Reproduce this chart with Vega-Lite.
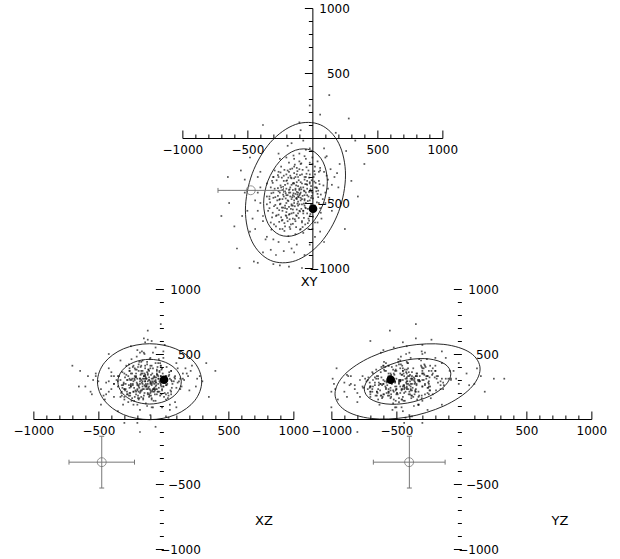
{
"$schema":"https://vega.github.io/schema/vega-lite/v6.json",
"padding":{"left":13,"top":2,"right":5,"bottom":5},
"background":"white",
"config":{"view":{"stroke":null},"axis":{"grid":false,"title":null,"labelFont":"DejaVu Sans","labelFontSize":12,"labelColor":"#000","domainColor":"#000","tickColor":"#000","domainWidth":1,"tickWidth":1,"labelOverlap":false,"labelBound":false,"labelFlush":false},"text":{"font":"DejaVu Sans"}},
"datasets":{
"cloud":[
{"x":-120,"y":-415,"z":290},{"x":-50,"y":-300,"z":350},{"x":-210,"y":-520,"z":210},{"x":30,"y":-380,"z":310},{"x":-280,"y":-600,"z":190},{"x":-90,"y":-200,"z":410},{"x":-160,"y":-470,"z":250},{"x":60,"y":-250,"z":370},{"x":-330,"y":-540,"z":170},{"x":-140,"y":-350,"z":330},
{"x":-20,"y":-480,"z":270},{"x":-240,"y":-380,"z":310},{"x":110,"y":-290,"z":390},{"x":-70,"y":-560,"z":230},{"x":-190,"y":-640,"z":150},{"x":-100,"y":-120,"z":470},{"x":-260,"y":-300,"z":370},{"x":0,"y":-420,"z":250},{"x":-150,"y":-520,"z":310},{"x":-40,"y":-330,"z":210},
{"x":-220,"y":-450,"z":390},{"x":80,"y":-470,"z":290},{"x":-300,"y":-420,"z":230},{"x":-120,"y":-280,"z":190},{"x":-170,"y":-700,"z":170},{"x":-60,"y":-410,"z":430},{"x":-380,"y":-600,"z":270},{"x":40,"y":-180,"z":330},{"x":-200,"y":-330,"z":110},{"x":-110,"y":-580,"z":370},
{"x":150,"y":-360,"z":310},{"x":-250,"y":-700,"z":250},{"x":-30,"y":-250,"z":290},{"x":-180,"y":-400,"z":510},{"x":-80,"y":-650,"z":210},{"x":-350,"y":-350,"z":330},{"x":20,"y":-520,"z":150},{"x":-140,"y":-160,"z":290},{"x":-230,"y":-560,"z":410},{"x":-90,"y":-460,"z":90},
{"x":100,"y":-150,"z":430},{"x":-300,"y":-780,"z":170},{"x":-10,"y":-370,"z":390},{"x":-190,"y":-250,"z":250},{"x":-130,"y":-740,"z":310},{"x":70,"y":-620,"z":270},{"x":-270,"y":-480,"z":130},{"x":-50,"y":-90,"z":370},{"x":-400,"y":-500,"z":230},{"x":-160,"y":-310,"z":450},
{"x":-70,"y":-730,"z":290},{"x":190,"y":-270,"z":330},{"x":-240,"y":-220,"z":350},{"x":-110,"y":-490,"z":190},{"x":-20,"y":-600,"z":410},{"x":-320,"y":-650,"z":210},{"x":50,"y":-330,"z":110},{"x":-200,"y":-150,"z":310},{"x":-150,"y":-620,"z":510},{"x":-40,"y":-440,"z":330},
{"x":-420,"y":-420,"z":290},{"x":130,"y":-460,"z":230},{"x":-260,"y":-590,"z":370},{"x":-90,"y":-340,"z":150},{"x":0,"y":-200,"z":470},{"x":-350,"y":-760,"z":250},{"x":-180,"y":-530,"z":70},{"x":90,"y":-80,"z":310},{"x":-120,"y":-820,"z":230},{"x":-230,"y":-400,"z":210},
{"x":-60,"y":-520,"z":550},{"x":-290,"y":-250,"z":270},{"x":20,"y":-650,"z":330},{"x":-170,"y":-240,"z":410},{"x":-100,"y":-400,"z":30},{"x":210,"y":-200,"z":370},{"x":-440,"y":-700,"z":190},{"x":-50,"y":-160,"z":230},{"x":-210,"y":-680,"z":350},{"x":-140,"y":-450,"z":590},
{"x":60,"y":-540,"z":190},{"x":-310,"y":-330,"z":110},{"x":-80,"y":-280,"z":510},{"x":-380,"y":-880,"z":170},{"x":-10,"y":-510,"z":90},{"x":-260,"y":-120,"z":310},{"x":120,"y":-390,"z":470},{"x":-160,"y":-850,"z":270},{"x":-330,"y":-470,"z":450},{"x":-30,"y":-700,"z":210},
{"x":-190,"y":-60,"z":370},{"x":40,"y":-430,"z":10},{"x":-230,"y":-630,"z":110},{"x":-120,"y":-230,"z":610},{"x":-500,"y":-560,"z":290},{"x":150,"y":-560,"z":350},{"x":-70,"y":-20,"z":270},{"x":-280,"y":-900,"z":210},{"x":-200,"y":-440,"z":-30},{"x":10,"y":-300,"z":570},
{"x":-520,"y":-320,"z":330},{"x":260,"y":-100,"z":310},{"x":-450,"y":-950,"z":150},{"x":-600,"y":-680,"z":250},{"x":220,"y":-500,"z":410},{"x":-100,"y":120,"z":390},{"x":-300,"y":-970,"z":230},{"x":180,"y":40,"z":350},{"x":-550,"y":-250,"z":190},{"x":300,"y":-330,"z":290},
{"x":-180,"y":-990,"z":310},{"x":-640,"y":-500,"z":370},{"x":90,"y":-800,"z":130},{"x":-380,"y":100,"z":270},{"x":330,"y":-20,"z":430},{"x":-20,"y":250,"z":310},{"x":-480,"y":-150,"z":110},{"x":250,"y":-700,"z":250},{"x":-580,"y":-850,"z":330},{"x":60,"y":180,"z":210},
{"x":-700,"y":-600,"z":410},{"x":350,"y":-450,"z":170},{"x":-250,"y":-980,"z":270},{"x":130,"y":330,"z":310},{"x":-420,"y":-960,"z":390},{"x":-650,"y":-300,"z":250},{"x":280,"y":150,"z":330},{"x":-80,"y":-1000,"z":90},{"x":400,"y":-200,"z":370},{"x":-560,"y":-1000,"z":210},
{"x":-150,"y":-350,"z":620},{"x":-60,"y":-480,"z":-60},{"x":-250,"y":-420,"z":560},{"x":20,"y":-380,"z":20},{"x":-120,"y":-550,"z":680},{"x":-300,"y":-300,"z":-30},{"x":-200,"y":-600,"z":530},{"x":50,"y":-260,"z":70},{"x":-90,"y":-700,"z":600},{"x":-350,"y":-450,"z":60},
{"x":0,"y":-150,"z":520},{"x":-180,"y":-800,"z":-100},{"x":-420,"y":-300,"z":500},{"x":100,"y":-500,"z":90},{"x":-20,"y":-350,"z":730},{"x":-130,"y":-430,"z":310},{"x":-100,"y":-390,"z":270},{"x":-150,"y":-400,"z":330},{"x":-110,"y":-450,"z":250},{"x":-90,"y":-420,"z":310},
{"x":-160,"y":-360,"z":290},{"x":-70,"y":-380,"z":330},{"x":-140,"y":-480,"z":290},{"x":-180,"y":-420,"z":270},{"x":-60,"y":-440,"z":250},{"x":-120,"y":-340,"z":350},{"x":-200,"y":-500,"z":230},{"x":-40,"y":-390,"z":310},{"x":-170,"y":-450,"z":370},{"x":-100,"y":-510,"z":290},
{"x":-130,"y":-300,"z":250},{"x":-210,"y":-410,"z":330},{"x":-80,"y":-350,"z":230},{"x":-150,"y":-550,"z":330},{"x":-30,"y":-450,"z":370},{"x":-190,"y":-350,"z":210},{"x":-120,"y":-600,"z":270},{"x":-60,"y":-320,"z":290},{"x":-230,"y":-470,"z":290},{"x":-10,"y":-410,"z":230},
{"x":-140,"y":-270,"z":310},{"x":-100,"y":-560,"z":410},{"x":-250,"y":-510,"z":250},{"x":-50,"y":-500,"z":190},{"x":-170,"y":-290,"z":350},{"x":-110,"y":-370,"z":170},{"x":-80,"y":-470,"z":390},{"x":-200,"y":-280,"z":270},{"x":-20,"y":-340,"z":330},{"x":-160,"y":-580,"z":230},
{"x":-95,"y":-430,"z":210},{"x":-175,"y":-395,"z":340},{"x":-55,"y":-355,"z":280},{"x":-225,"y":-535,"z":310},{"x":-125,"y":-465,"z":420},{"x":-15,"y":-395,"z":190},{"x":-265,"y":-445,"z":260},{"x":-85,"y":-545,"z":350},{"x":-195,"y":-325,"z":180},{"x":-45,"y":-275,"z":400},
{"x":-145,"y":-575,"z":200},{"x":-245,"y":-365,"z":300},{"x":-65,"y":-615,"z":320},{"x":-115,"y":-255,"z":240},{"x":-205,"y":-595,"z":380},{"x":5,"y":-465,"z":300},{"x":-285,"y":-515,"z":340},{"x":-135,"y":-205,"z":320},{"x":-35,"y":-545,"z":240},{"x":-165,"y":-665,"z":280},
{"x":-105,"y":-325,"z":460},{"x":-215,"y":-245,"z":220},{"x":25,"y":-345,"z":260},{"x":-255,"y":-645,"z":200},{"x":-75,"y":-445,"z":140},{"x":-185,"y":-485,"z":440},{"x":-25,"y":-305,"z":180},{"x":-125,"y":-685,"z":360},{"x":-235,"y":-305,"z":400},{"x":-5,"y":-565,"z":320},
{"x":-155,"y":-235,"z":160},{"x":-305,"y":-575,"z":280},{"x":-95,"y":-285,"z":340},{"x":-175,"y":-625,"z":220},{"x":45,"y":-405,"z":360},{"x":-265,"y":-385,"z":180},{"x":-55,"y":-665,"z":260},{"x":-145,"y":-425,"z":500},{"x":-215,"y":-715,"z":320},{"x":15,"y":-255,"z":280},
{"x":-325,"y":-495,"z":200},{"x":-85,"y":-195,"z":220},{"x":-195,"y":-545,"z":160},{"x":-35,"y":-485,"z":460},{"x":-125,"y":-365,"z":100},{"x":-245,"y":-265,"z":460},{"x":65,"y":-435,"z":240},{"x":-295,"y":-665,"z":320},{"x":-105,"y":-615,"z":180},{"x":-165,"y":-305,"z":520},
{"x":-15,"y":-525,"z":380},{"x":-225,"y":-435,"z":140},{"x":-75,"y":-245,"z":320},{"x":-185,"y":-755,"z":240},{"x":35,"y":-495,"z":200},{"x":-275,"y":-325,"z":300},{"x":-135,"y":-525,"z":120},{"x":-45,"y":-225,"z":340},{"x":-205,"y":-465,"z":480},{"x":-95,"y":-705,"z":280},
{"x":-255,"y":-555,"z":180},{"x":-5,"y":-325,"z":300},{"x":-145,"y":-135,"z":260},{"x":-315,"y":-425,"z":360},{"x":85,"y":-365,"z":320},{"x":-175,"y":-585,"z":400},{"x":-65,"y":-505,"z":220},{"x":-235,"y":-635,"z":260},{"x":-115,"y":-435,"z":380},{"x":-25,"y":-635,"z":280},
{"x":-310,"y":-610,"z":260},{"x":-270,"y":-540,"z":330},{"x":-230,"y":-700,"z":210},{"x":-190,"y":-480,"z":420},{"x":-150,"y":-660,"z":180},{"x":-110,"y":-520,"z":300},{"x":-70,"y":-580,"z":240},{"x":-30,"y":-620,"z":360},{"x":10,"y":-560,"z":200},{"x":50,"y":-500,"z":310},
{"x":-330,"y":-450,"z":300},{"x":-290,"y":-390,"z":230},{"x":-250,"y":-470,"z":350},{"x":-210,"y":-360,"z":190},{"x":-170,"y":-420,"z":440},{"x":-130,"y":-390,"z":250},{"x":-90,"y":-480,"z":160},{"x":-50,"y":-420,"z":380},{"x":-10,"y":-460,"z":220},{"x":30,"y":-410,"z":270},
{"x":-300,"y":-300,"z":350},{"x":-260,"y":-260,"z":240},{"x":-220,"y":-330,"z":170},{"x":-180,"y":-190,"z":310},{"x":-140,"y":-310,"z":410},{"x":-100,"y":-240,"z":220},{"x":-60,"y":-300,"z":140},{"x":-20,"y":-190,"z":330},{"x":20,"y":-280,"z":260},{"x":60,"y":-230,"z":370},
{"x":-280,"y":-680,"z":300},{"x":-240,"y":-610,"z":160},{"x":-200,"y":-570,"z":260},{"x":-160,"y":-510,"z":370},{"x":-120,"y":-470,"z":200},{"x":-80,"y":-640,"z":310},{"x":-40,"y":-580,"z":430},{"x":0,"y":-700,"z":250},{"x":40,"y":-650,"z":180},{"x":-340,"y":-560,"z":330},
{"x":-320,"y":-380,"z":180},{"x":-285,"y":-455,"z":410},{"x":-245,"y":-505,"z":140},{"x":-205,"y":-425,"z":280},{"x":-165,"y":-545,"z":220},{"x":-125,"y":-595,"z":440},{"x":-85,"y":-395,"z":290},{"x":-45,"y":-355,"z":210},{"x":-5,"y":-445,"z":350},{"x":35,"y":-385,"z":160},
{"x":-305,"y":-345,"z":270},{"x":-265,"y":-285,"z":420},{"x":-225,"y":-375,"z":240},{"x":-185,"y":-305,"z":160},{"x":-145,"y":-345,"z":350},{"x":-105,"y":-455,"z":230},{"x":-65,"y":-405,"z":190},{"x":-25,"y":-415,"z":430},{"x":15,"y":-335,"z":300},{"x":55,"y":-355,"z":220},
{"x":-295,"y":-525,"z":220},{"x":-255,"y":-475,"z":300},{"x":-215,"y":-655,"z":380},{"x":-175,"y":-685,"z":210},{"x":-135,"y":-625,"z":270},{"x":-95,"y":-565,"z":180},{"x":-55,"y":-535,"z":320},{"x":-15,"y":-585,"z":250},{"x":25,"y":-535,"z":400},{"x":65,"y":-575,"z":290},
{"x":-315,"y":-705,"z":240},{"x":-275,"y":-595,"z":190},{"x":-235,"y":-535,"z":270},{"x":-195,"y":-615,"z":400},{"x":-155,"y":-455,"z":150},{"x":-115,"y":-505,"z":380},{"x":-75,"y":-685,"z":230},{"x":-35,"y":-655,"z":310},{"x":5,"y":-605,"z":170},{"x":45,"y":-455,"z":340},
{"x":-350,"y":-510,"z":290},{"x":-300,"y":-460,"z":150},{"x":-260,"y":-410,"z":390},{"x":-220,"y":-290,"z":300},{"x":-180,"y":-260,"z":200},{"x":-140,"y":-220,"z":390},{"x":-100,"y":-180,"z":280},{"x":-60,"y":-140,"z":230},{"x":-20,"y":-280,"z":410},{"x":20,"y":-220,"z":190},
{"x":-130,"y":-400,"z":260},{"x":-110,"y":-420,"z":320},{"x":-150,"y":-440,"z":230},{"x":-90,"y":-380,"z":270},{"x":-170,"y":-380,"z":300},{"x":-120,"y":-460,"z":340},{"x":-140,"y":-500,"z":250},{"x":-100,"y":-440,"z":200},{"x":-80,"y":-510,"z":280},{"x":-160,"y":-520,"z":350},
{"x":-190,"y":-440,"z":260},{"x":-60,"y":-470,"z":300},{"x":-200,"y":-390,"z":220},{"x":-40,"y":-360,"z":270},{"x":-210,"y":-540,"z":320},{"x":-70,"y":-560,"z":210},{"x":-180,"y":-590,"z":290},{"x":-50,"y":-540,"z":340},{"x":-110,"y":-300,"z":300},{"x":-130,"y":-640,"z":230},
{"x":-380,"y":-640,"z":330},{"x":-420,"y":-560,"z":210},{"x":-400,"y":-380,"z":360},{"x":100,"y":-420,"z":240},{"x":120,"y":-320,"z":290},{"x":90,"y":-260,"z":330},{"x":-360,"y":-780,"z":300},{"x":-260,"y":-800,"z":200},{"x":-140,"y":-880,"z":340},{"x":-20,"y":-820,"z":260},
{"x":-440,"y":-480,"z":280},{"x":140,"y":-240,"z":250},{"x":-220,"y":-870,"z":330},{"x":60,"y":-720,"z":300},{"x":-480,"y":-720,"z":230},{"x":160,"y":-480,"z":300},{"x":-520,"y":-420,"z":350},{"x":200,"y":-380,"z":220},{"x":-60,"y":-900,"z":280},{"x":-160,"y":-40,"z":310},
{"x":-250,"y":-160,"z":260},{"x":-20,"y":-80,"z":300},{"x":-400,"y":-260,"z":330},{"x":110,"y":-140,"z":280},{"x":-320,"y":-860,"z":260},{"x":20,"y":-760,"z":330},{"x":-460,"y":-620,"z":180},{"x":170,"y":-300,"z":390},{"x":-540,"y":-600,"z":300},{"x":-90,"y":60,"z":260}
],
"ellXY":[
{"r":"o","k":0,"h":255,"v":-285},{"r":"o","k":1,"h":203,"v":-41},{"r":"o","k":2,"h":63,"v":101},{"r":"o","k":3,"h":-130,"v":104},{"r":"o","k":4,"h":-323,"v":-34},{"r":"o","k":5,"h":-463,"v":-275},{"r":"o","k":6,"h":-515,"v":-555},{"r":"o","k":7,"h":-463,"v":-799},{"r":"o","k":8,"h":-323,"v":-941},{"r":"o","k":9,"h":-130,"v":-944},{"r":"o","k":10,"h":63,"v":-806},{"r":"o","k":11,"h":203,"v":-565},
{"r":"i","k":0,"h":115,"v":-336},{"r":"i","k":1,"h":82,"v":-184},{"r":"i","k":2,"h":-7,"v":-95},{"r":"i","k":3,"h":-130,"v":-94},{"r":"i","k":4,"h":-252,"v":-180},{"r":"i","k":5,"h":-342,"v":-330},{"r":"i","k":6,"h":-375,"v":-504},{"r":"i","k":7,"h":-342,"v":-656},{"r":"i","k":8,"h":-252,"v":-745},{"r":"i","k":9,"h":-130,"v":-746},{"r":"i","k":10,"h":-7,"v":-660},{"r":"i","k":11,"h":82,"v":-510}
],
"ellXZ":[
{"r":"o","k":0,"h":295,"v":287},{"r":"o","k":1,"h":241,"v":433},{"r":"o","k":2,"h":95,"v":540},{"r":"o","k":3,"h":-106,"v":579},{"r":"o","k":4,"h":-307,"v":540},{"r":"o","k":5,"h":-453,"v":433},{"r":"o","k":6,"h":-507,"v":287},{"r":"o","k":7,"h":-453,"v":141},{"r":"o","k":8,"h":-307,"v":34},{"r":"o","k":9,"h":-106,"v":-5},{"r":"o","k":10,"h":95,"v":34},{"r":"o","k":11,"h":241,"v":141},
{"r":"i","k":0,"h":138,"v":287},{"r":"i","k":1,"h":105,"v":373},{"r":"i","k":2,"h":16,"v":436},{"r":"i","k":3,"h":-106,"v":459},{"r":"i","k":4,"h":-228,"v":436},{"r":"i","k":5,"h":-317,"v":373},{"r":"i","k":6,"h":-350,"v":287},{"r":"i","k":7,"h":-317,"v":201},{"r":"i","k":8,"h":-228,"v":138},{"r":"i","k":9,"h":-106,"v":115},{"r":"i","k":10,"h":16,"v":138},{"r":"i","k":11,"h":105,"v":201}
],
"ellYZ":[
{"r":"o","k":0,"h":144,"v":385},{"r":"o","k":1,"h":69,"v":509},{"r":"o","k":2,"h":-135,"v":574},{"r":"o","k":3,"h":-414,"v":563},{"r":"o","k":4,"h":-693,"v":478},{"r":"o","k":5,"h":-897,"v":343},{"r":"o","k":6,"h":-972,"v":193},{"r":"o","k":7,"h":-897,"v":69},{"r":"o","k":8,"h":-693,"v":4},{"r":"o","k":9,"h":-414,"v":15},{"r":"o","k":10,"h":-135,"v":100},{"r":"o","k":11,"h":69,"v":235},
{"r":"i","k":0,"h":-81,"v":347},{"r":"i","k":1,"h":-126,"v":422},{"r":"i","k":2,"h":-248,"v":462},{"r":"i","k":3,"h":-414,"v":455},{"r":"i","k":4,"h":-580,"v":404},{"r":"i","k":5,"h":-702,"v":322},{"r":"i","k":6,"h":-747,"v":231},{"r":"i","k":7,"h":-702,"v":156},{"r":"i","k":8,"h":-580,"v":116},{"r":"i","k":9,"h":-414,"v":123},{"r":"i","k":10,"h":-248,"v":174},{"r":"i","k":11,"h":-126,"v":256}
],
"barsXY":[
{"h":-726,"h2":-222,"v":-403,"v2":-403},{"h":-726,"h2":-726,"v":-422,"v2":-384},{"h":-222,"h2":-222,"v":-422,"v2":-384}
],
"barsXZ":[
{"h":-726,"h2":-222,"v":-332,"v2":-332},{"h":-726,"h2":-726,"v":-351,"v2":-313},{"h":-222,"h2":-222,"v":-351,"v2":-313},
{"h":-474,"h2":-474,"v":-531,"v2":-133},{"h":-493,"h2":-455,"v":-531,"v2":-531},{"h":-493,"h2":-455,"v":-133,"v2":-133}
],
"barsYZ":[
{"h":-677,"h2":-125,"v":-332,"v2":-332},{"h":-677,"h2":-677,"v":-351,"v2":-313},{"h":-125,"h2":-125,"v":-351,"v2":-313},
{"h":-400,"h2":-400,"v":-531,"v2":-133},{"h":-419,"h2":-381,"v":-531,"v2":-531},{"h":-419,"h2":-381,"v":-133,"v2":-133}
],
"obs":[{"x":-474,"y":-402,"z":-332}],
"best":[{"x":5,"y":-544,"z":302}]
},
"vconcat":[
{"width":260,"height":260,
 "resolve":{"axis":{"x":"independent","y":"independent"}},
 "layer":[
  {"data":{"name":"cloud"},"mark":{"type":"square","size":3,"color":"#111","opacity":0.7},
   "encoding":{
    "x":{"field":"x","type":"quantitative","scale":{"domain":[-1000,1000],"nice":false,"zero":false},"axis":{"orient":"top","offset":-130,"values":[-1000,-500,500,1000],"tickSize":8,"labels":false,"domain":true}},
    "y":{"field":"y","type":"quantitative","scale":{"domain":[-1000,1000],"nice":false,"zero":false},"axis":{"orient":"left","offset":-130,"values":[-1000,-500,500,1000],"tickSize":8,"labels":false,"domain":true}}}},
  {"data":{"name":"ellXY"},"mark":{"type":"line","interpolate":"cardinal-closed","color":"#111","strokeWidth":0.9},
   "encoding":{
    "x":{"field":"h","type":"quantitative","scale":{"domain":[-1000,1000],"nice":false,"zero":false},"axis":{"orient":"top","offset":-130,"values":[-900,-800,-700,-600,-400,-300,-200,-100,100,200,300,400,600,700,800,900],"tickSize":4,"labels":false,"domain":false}},
    "y":{"field":"v","type":"quantitative","scale":{"domain":[-1000,1000],"nice":false,"zero":false},"axis":{"orient":"left","offset":-130,"values":[-900,-800,-700,-600,-400,-300,-200,-100,100,200,300,400,600,700,800,900],"tickSize":4,"labels":false,"domain":false}},
    "order":{"field":"k","type":"quantitative"},"detail":{"field":"r"}}},
  {"data":{"name":"barsXY"},"mark":{"type":"rule","color":"#777","strokeWidth":1},
   "encoding":{
    "x":{"field":"h","type":"quantitative","scale":{"domain":[-1000,1000],"nice":false,"zero":false},"axis":{"orient":"bottom","offset":-130,"values":[-1000,-500,500,1000],"ticks":false,"domain":false,"labelPadding":6,"labelExpr":"datum.value < 0 ? '−' + abs(datum.value) : '' + datum.value"}},
    "x2":{"field":"h2"},
    "y":{"field":"v","type":"quantitative","scale":{"domain":[-1000,1000],"nice":false,"zero":false},"axis":{"orient":"right","offset":-130,"values":[1000,500,-500,-1000],"ticks":false,"domain":false,"labelAlign":"right","labelPadding":37,"labelExpr":"datum.value < 0 ? '−' + abs(datum.value) : '' + datum.value"}},
    "y2":{"field":"v2"}}},
  {"data":{"name":"obs"},"mark":{"type":"point","shape":"circle","size":80,"filled":false,"color":"#666","strokeWidth":1},
   "encoding":{"x":{"field":"x","type":"quantitative","scale":{"domain":[-1000,1000],"nice":false,"zero":false},"axis":null},"y":{"field":"y","type":"quantitative","scale":{"domain":[-1000,1000],"nice":false,"zero":false},"axis":null}}},
  {"data":{"name":"best"},"mark":{"type":"circle","size":75,"color":"#000","opacity":1},
   "encoding":{"x":{"field":"x","type":"quantitative","scale":{"domain":[-1000,1000],"nice":false,"zero":false},"axis":null},"y":{"field":"y","type":"quantitative","scale":{"domain":[-1000,1000],"nice":false,"zero":false},"axis":null}}},
  {"data":{"values":[{"h":-25,"v":-1105,"t":"XY"}]},"mark":{"type":"text","fontSize":13,"color":"#000"},
   "encoding":{"x":{"field":"h","type":"quantitative","scale":{"domain":[-1000,1000],"nice":false,"zero":false},"axis":null},"y":{"field":"v","type":"quantitative","scale":{"domain":[-1000,1000],"nice":false,"zero":false},"axis":null},"text":{"field":"t"}}}
 ]},
{"hconcat":[
 {"width":260,"height":260,
  "resolve":{"axis":{"x":"independent","y":"independent"}},
  "layer":[
   {"data":{"name":"cloud"},"mark":{"type":"square","size":3,"color":"#111","opacity":0.7},
    "encoding":{
     "x":{"field":"x","type":"quantitative","scale":{"domain":[-1000,1000],"nice":false,"zero":false},"axis":{"orient":"top","offset":-130,"values":[-1000,-500,500,1000],"tickSize":8,"labels":false,"domain":true}},
     "y":{"field":"z","type":"quantitative","scale":{"domain":[-1000,1000],"nice":false,"zero":false},"axis":{"orient":"left","offset":-130,"values":[-1000,-500,500,1000],"tickSize":8,"labels":false,"domain":false}}}},
   {"data":{"name":"ellXZ"},"mark":{"type":"line","interpolate":"cardinal-closed","color":"#111","strokeWidth":0.9},
    "encoding":{
     "x":{"field":"h","type":"quantitative","scale":{"domain":[-1000,1000],"nice":false,"zero":false},"axis":{"orient":"top","offset":-130,"values":[-900,-800,-700,-600,-400,-300,-200,-100,100,200,300,400,600,700,800,900],"tickSize":4,"labels":false,"domain":false}},
     "y":{"field":"v","type":"quantitative","scale":{"domain":[-1000,1000],"nice":false,"zero":false},"axis":{"orient":"left","offset":-130,"values":[-900,-800,-700,-600,-400,-300,-200,-100,100,200,300,400,600,700,800,900],"tickSize":4,"labels":false,"domain":false}},
     "order":{"field":"k","type":"quantitative"},"detail":{"field":"r"}}},
   {"data":{"name":"barsXZ"},"mark":{"type":"rule","color":"#777","strokeWidth":1},
    "encoding":{
     "x":{"field":"h","type":"quantitative","scale":{"domain":[-1000,1000],"nice":false,"zero":false},"axis":{"orient":"bottom","offset":-130,"values":[-1000,-500,500,1000],"ticks":false,"domain":false,"labelPadding":6,"labelExpr":"datum.value < 0 ? '−' + abs(datum.value) : '' + datum.value"}},
     "x2":{"field":"h2"},
     "y":{"field":"v","type":"quantitative","scale":{"domain":[-1000,1000],"nice":false,"zero":false},"axis":{"orient":"right","offset":-130,"values":[1000,500,-500,-1000],"ticks":false,"domain":false,"labelAlign":"right","labelPadding":37,"labelExpr":"datum.value < 0 ? '−' + abs(datum.value) : '' + datum.value"}},
     "y2":{"field":"v2"}}},
   {"data":{"name":"obs"},"mark":{"type":"point","shape":"circle","size":80,"filled":false,"color":"#666","strokeWidth":1},
    "encoding":{"x":{"field":"x","type":"quantitative","scale":{"domain":[-1000,1000],"nice":false,"zero":false},"axis":null},"y":{"field":"z","type":"quantitative","scale":{"domain":[-1000,1000],"nice":false,"zero":false},"axis":null}}},
   {"data":{"name":"best"},"mark":{"type":"circle","size":75,"color":"#000","opacity":1},
    "encoding":{"x":{"field":"x","type":"quantitative","scale":{"domain":[-1000,1000],"nice":false,"zero":false},"axis":null},"y":{"field":"z","type":"quantitative","scale":{"domain":[-1000,1000],"nice":false,"zero":false},"axis":null}}},
   {"data":{"values":[{"h":774,"v":-782,"t":"XZ"}]},"mark":{"type":"text","fontSize":13,"color":"#000"},
    "encoding":{"x":{"field":"h","type":"quantitative","scale":{"domain":[-1000,1000],"nice":false,"zero":false},"axis":null},"y":{"field":"v","type":"quantitative","scale":{"domain":[-1000,1000],"nice":false,"zero":false},"axis":null},"text":{"field":"t"}}}
  ]},
 {"width":260,"height":260,
  "resolve":{"axis":{"x":"independent","y":"independent"}},
  "layer":[
   {"data":{"name":"cloud"},"mark":{"type":"square","size":3,"color":"#111","opacity":0.7},
    "encoding":{
     "x":{"field":"y","type":"quantitative","scale":{"domain":[-1000,1000],"nice":false,"zero":false},"axis":{"orient":"top","offset":-130,"values":[-1000,-500,500,1000],"tickSize":8,"labels":false,"domain":true}},
     "y":{"field":"z","type":"quantitative","scale":{"domain":[-1000,1000],"nice":false,"zero":false},"axis":{"orient":"left","offset":-130,"values":[-1000,-500,500,1000],"tickSize":8,"labels":false,"domain":false}}}},
   {"data":{"name":"ellYZ"},"mark":{"type":"line","interpolate":"cardinal-closed","color":"#111","strokeWidth":0.9},
    "encoding":{
     "x":{"field":"h","type":"quantitative","scale":{"domain":[-1000,1000],"nice":false,"zero":false},"axis":{"orient":"top","offset":-130,"values":[-900,-800,-700,-600,-400,-300,-200,-100,100,200,300,400,600,700,800,900],"tickSize":4,"labels":false,"domain":false}},
     "y":{"field":"v","type":"quantitative","scale":{"domain":[-1000,1000],"nice":false,"zero":false},"axis":{"orient":"left","offset":-130,"values":[-900,-800,-700,-600,-400,-300,-200,-100,100,200,300,400,600,700,800,900],"tickSize":4,"labels":false,"domain":false}},
     "order":{"field":"k","type":"quantitative"},"detail":{"field":"r"}}},
   {"data":{"name":"barsYZ"},"mark":{"type":"rule","color":"#777","strokeWidth":1},
    "encoding":{
     "x":{"field":"h","type":"quantitative","scale":{"domain":[-1000,1000],"nice":false,"zero":false},"axis":{"orient":"bottom","offset":-130,"values":[-1000,-500,500,1000],"ticks":false,"domain":false,"labelPadding":6,"labelExpr":"datum.value < 0 ? '−' + abs(datum.value) : '' + datum.value"}},
     "x2":{"field":"h2"},
     "y":{"field":"v","type":"quantitative","scale":{"domain":[-1000,1000],"nice":false,"zero":false},"axis":{"orient":"right","offset":-130,"values":[1000,500,-500,-1000],"ticks":false,"domain":false,"labelAlign":"right","labelPadding":37,"labelExpr":"datum.value < 0 ? '−' + abs(datum.value) : '' + datum.value"}},
     "y2":{"field":"v2"}}},
   {"data":{"name":"obs"},"mark":{"type":"point","shape":"circle","size":80,"filled":false,"color":"#666","strokeWidth":1},
    "encoding":{"x":{"field":"y","type":"quantitative","scale":{"domain":[-1000,1000],"nice":false,"zero":false},"axis":null},"y":{"field":"z","type":"quantitative","scale":{"domain":[-1000,1000],"nice":false,"zero":false},"axis":null}}},
   {"data":{"name":"best"},"mark":{"type":"circle","size":75,"color":"#000","opacity":1},
    "encoding":{"x":{"field":"y","type":"quantitative","scale":{"domain":[-1000,1000],"nice":false,"zero":false},"axis":null},"y":{"field":"z","type":"quantitative","scale":{"domain":[-1000,1000],"nice":false,"zero":false},"axis":null}}},
   {"data":{"values":[{"h":759,"v":-782,"t":"YZ"}]},"mark":{"type":"text","fontSize":13,"color":"#000"},
    "encoding":{"x":{"field":"h","type":"quantitative","scale":{"domain":[-1000,1000],"nice":false,"zero":false},"axis":null},"y":{"field":"v","type":"quantitative","scale":{"domain":[-1000,1000],"nice":false,"zero":false},"axis":null},"text":{"field":"t"}}}
  ]}
 ],"spacing":38,"bounds":"flush"}
],
"spacing":-6,"bounds":"full","center":true
}
